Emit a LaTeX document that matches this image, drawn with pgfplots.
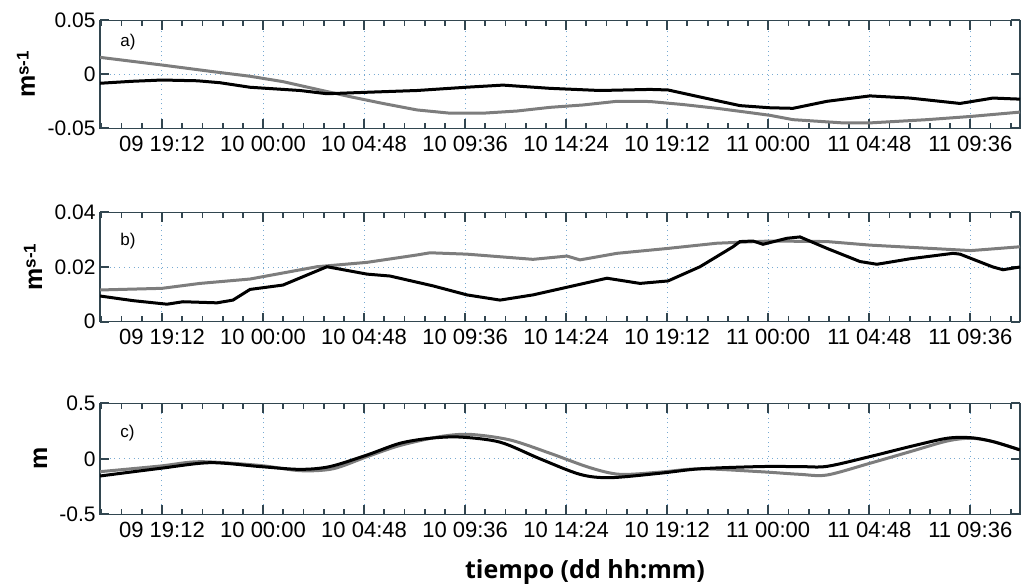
\documentclass[border=0pt]{standalone}
\usepackage{fontspec}
\setmainfont{Liberation Sans}
\newfontfamily\xlabfont{Open Sans}
\usepackage{pgfplots}
\pgfplotsset{compat=1.18}

\definecolor{gridc}{RGB}{120,170,210}
\definecolor{axc}{RGB}{50,70,80}
\definecolor{grayline}{RGB}{125,125,125}

\pgfplotsset{
 panel/.style={
  scale only axis, width=460pt,
  xmin=9.6773, xmax=11.4984,
  xtick={9.8,10,10.2,10.4,10.6,10.8,11,11.2,11.4},
  xticklabels={09 19:12,10 00:00,10 04:48,10 09:36,10 14:24,10 19:12,11 00:00,11 04:48,11 09:36},
  minor xtick={9.68,9.72,9.76,9.84,9.88,9.92,9.96,10.04,10.08,10.12,10.16,10.24,10.28,10.32,10.36,10.44,10.48,10.52,10.56,10.64,10.68,10.72,10.76,10.84,10.88,10.92,10.96,11.04,11.08,11.12,11.16,11.24,11.28,11.32,11.36,11.44,11.48},
  xmajorgrids, ymajorgrids,
  grid style={gridc, dotted, line width=0.5pt},
  axis line style={axc, line width=0.6pt},
  scaled y ticks=false,
  xticklabel style={font=\fontsize{11}{13}\selectfont, inner ysep=3.5pt},
  yticklabel style={font=\fontsize{10.5}{12}\selectfont, inner xsep=2pt},
  ylabel style={anchor=base, rotate=0},
  clip=true,
  every major tick/.style={draw=axc, line width=0.9pt},
  every minor tick/.style={draw=axc, line width=0.9pt},
  major tick length=4.6pt, minor tick length=2.8pt,
  tick align=inside,
 },
 gline/.style={grayline, line width=1.5pt},
 bline/.style={black, line width=1.5pt},
}

\newcommand{\msl}{{\fontsize{12.5}{14}\selectfont\bfseries m\raisebox{3.2pt}{\fontsize{8.5}{10}\selectfont s-1}}}

\begin{document}
\begin{tikzpicture}
\useasboundingbox (0pt,0pt) rectangle (510.5pt,-291.5pt);

% ---------- panel a ----------
\begin{axis}[panel, at={(50pt,-10.15pt)}, anchor=north west, height=54pt,
  ymin=-0.05, ymax=0.05, ytick={-0.05,0,0.05}, yticklabels={-0.05,0,0.05},
  ylabel={\msl}, ylabel style={at={(axis description cs:-0.0707,0.5)}}]
\addplot[gline] coordinates {
(9.6773,0.0157) (9.8,0.0086) (9.9,0.0025) (9.9742,-0.0018) (10.0395,-0.0068)
(10.1068,-0.0139) (10.1721,-0.0207) (10.2374,-0.027) (10.3048,-0.033) (10.3701,-0.036)
(10.4354,-0.036) (10.5027,-0.034) (10.5680,-0.0306) (10.6333,-0.0284) (10.7006,-0.025)
(10.7660,-0.0252) (10.8313,-0.028) (10.8986,-0.0315) (10.9639,-0.0355) (11.0036,-0.038)
(11.0491,-0.042) (11.1480,-0.045) (11.2014,-0.045) (11.3143,-0.042) (11.4014,-0.039)
(11.4984,-0.035)};
\addplot[bline] coordinates {
(9.6773,-0.0083) (9.74,-0.0065) (9.8,-0.0053) (9.87,-0.006) (9.9148,-0.0078)
(9.9742,-0.012) (10.0732,-0.015) (10.1266,-0.018) (10.2018,-0.0167) (10.3048,-0.015)
(10.4017,-0.012) (10.4750,-0.010) (10.5680,-0.013) (10.6670,-0.015) (10.7660,-0.014)
(10.8016,-0.0145) (10.8650,-0.021) (10.9441,-0.029) (11.0036,-0.031) (11.0491,-0.0315)
(11.1164,-0.025) (11.2014,-0.020) (11.2806,-0.022) (11.3796,-0.027) (11.4449,-0.022)
(11.4984,-0.023)};
\node[anchor=west, inner sep=0pt, font=\fontsize{8.5}{10}\selectfont] at (rel axis cs:0.0217,0.794) {a)};
\end{axis}

% ---------- panel b ----------
\begin{axis}[panel, at={(50pt,-106.15pt)}, anchor=north west, height=54.7pt,
  ymin=0, ymax=0.04, ytick={0,0.02,0.04}, yticklabels={0,0.02,0.04},
  ylabel={\msl}, ylabel style={at={(axis description cs:-0.0630,0.5)}}]
\addplot[gline] coordinates {
(9.6773,0.0116) (9.8,0.0122) (9.8752,0.014) (9.9742,0.0156) (10.1068,0.0201)
(10.2058,0.0217) (10.3048,0.0244) (10.3305,0.0252) (10.4037,0.0247) (10.5344,0.0228)
(10.6017,0.024) (10.6274,0.0226) (10.7006,0.025) (10.8016,0.0268) (10.8986,0.0287)
(11.0036,0.0295) (11.1164,0.0293) (11.2014,0.028) (11.4014,0.026) (11.4984,0.0274)};
\addplot[bline] coordinates {
(9.6773,0.0094) (9.7426,0.0077) (9.8099,0.0064) (9.8416,0.0073) (9.9089,0.0069)
(9.9405,0.0079) (9.9742,0.0118) (10.0395,0.0134) (10.1266,0.0201) (10.2058,0.0174)
(10.2513,0.0167) (10.3364,0.0131) (10.4037,0.0098) (10.4691,0.0079) (10.5344,0.0098)
(10.6017,0.0126) (10.6808,0.0159) (10.7462,0.014) (10.8016,0.0149) (10.8650,0.0201)
(10.9303,0.0274) (10.9441,0.0293) (10.9699,0.0295) (10.9897,0.0283) (11.0372,0.0305)
(11.0629,0.031) (11.1164,0.0268) (11.1816,0.022) (11.2153,0.021) (11.2806,0.023)
(11.3657,0.025) (11.3796,0.0247) (11.4449,0.020) (11.4647,0.019) (11.4984,0.020)};
\node[anchor=west, inner sep=0pt, font=\fontsize{8.5}{10}\selectfont] at (rel axis cs:0.0217,0.733) {b)};
\end{axis}

% ---------- panel c ----------
\begin{axis}[panel, at={(50pt,-201.65pt)}, anchor=north west, height=55.5pt,
  ymin=-0.5, ymax=0.5, ytick={-0.5,0,0.5}, yticklabels={-0.5,0,0.5},
  ylabel={{\fontsize{12.5}{14}\selectfont\bfseries m}}, ylabel style={at={(axis description cs:-0.0576,0.5)}}]
\addplot[gline, smooth, tension=0.5] coordinates {
(9.6773,-0.116) (9.7965,-0.065) (9.8752,-0.026) (9.9940,-0.06) (10.0732,-0.107)
(10.1385,-0.09) (10.2058,0.019) (10.2711,0.12) (10.3503,0.2) (10.4097,0.22)
(10.4888,0.17) (10.5680,0.05) (10.6472,-0.08) (10.7066,-0.14) (10.7858,-0.12)
(10.8650,-0.09) (10.9838,-0.116) (11.0629,-0.14) (11.1164,-0.146) (11.2014,-0.04)
(11.2806,0.064) (11.3539,0.16) (11.4014,0.185) (11.4449,0.155) (11.4984,0.08)};
\addplot[bline, smooth, tension=0.5] coordinates {
(9.6773,-0.155) (9.7965,-0.086) (9.8950,-0.035) (9.9940,-0.07) (10.0732,-0.095)
(10.1325,-0.07) (10.2058,0.034) (10.2711,0.14) (10.3305,0.185) (10.3899,0.196)
(10.4691,0.15) (10.5482,0.0) (10.6274,-0.14) (10.6868,-0.17) (10.7858,-0.13)
(10.8650,-0.09) (10.9838,-0.07) (11.0629,-0.07) (11.1164,-0.068) (11.2014,0.02)
(11.2806,0.11) (11.3539,0.185) (11.4014,0.19) (11.4449,0.155) (11.4984,0.08)};
\node[anchor=west, inner sep=0pt, font=\fontsize{8.5}{10}\selectfont] at (rel axis cs:0.0217,0.728) {c)};
\end{axis}

\node[anchor=base, inner sep=0pt, font=\xlabfont\bfseries\fontsize{12.5}{15}\selectfont] at (292.5pt,-289pt) {tiempo (dd hh:mm)};
\end{tikzpicture}
\end{document}
